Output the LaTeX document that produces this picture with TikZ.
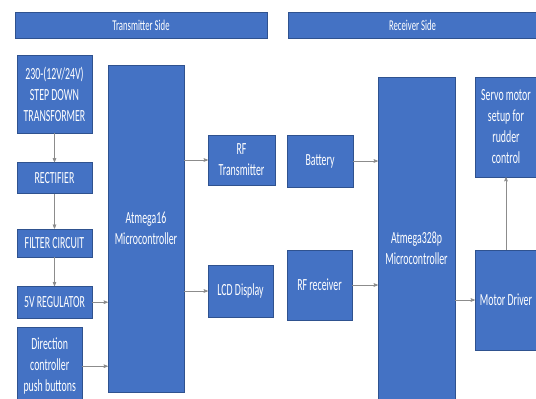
\documentclass[tikz,border=0pt]{standalone}
\usepackage{fontspec}
\newfontfamily\blockfont{Carlito}[FakeStretch=0.58]
\usepackage{tikz}
\usetikzlibrary{arrows}
\usetikzlibrary{positioning}
\definecolor{boxblue}{RGB}{68,114,196}
\definecolor{boxedge}{RGB}{47,82,143}
\definecolor{wire}{RGB}{140,140,140}

\begin{document}
\begin{tikzpicture}[x=1pt,y=-1pt,>=stealth',
    block/.style={rectangle,draw=boxedge,fill=boxblue,text=white,align=center,inner sep=1pt,
      font=\blockfont\fontsize{17}{21}\selectfont},
    link/.style={->,draw=wire,line width=0.6pt}]

  \useasboundingbox (0,0) rectangle (536,399);

  % side headers
  \node[block,minimum width=252pt,minimum height=26pt,font=\blockfont\fontsize{15}{18}\selectfont] (txside) at (141,25) {Transmitter Side};
  \node[block,minimum width=249pt,minimum height=26pt,font=\blockfont\fontsize{15}{18}\selectfont] (rxside) at (412.5,25) {Receiver Side};

  % transmitter: power chain
  \node[block,minimum width=75pt,minimum height=78pt] (trans) at (54.5,94) {230-(12V/24V)\\STEP DOWN\\TRANSFORMER};
  \node[block,minimum width=75pt,minimum height=31pt] (rect) [below=29pt of trans] {RECTIFIER};
  \node[block,minimum width=75pt,minimum height=28pt] (filter) [below=35pt of rect] {FILTER CIRCUIT};
  \node[block,minimum width=75pt,minimum height=32pt] (reg) [below=29pt of filter] {5V REGULATOR};
  \node[block,minimum width=65pt,minimum height=78pt,anchor=north west] (dir) at (17,327) {Direction\\controller\\push buttons};

  \node[block,minimum width=76pt,minimum height=327pt] (m16) at (146,228.5) {Atmega16\\Microcontroller};
  \node[block,minimum width=67pt,minimum height=50pt] (rftx) at (241.5,160) {RF\\Transmitter};
  \node[block,minimum width=65pt,minimum height=52pt] (lcd) at (240.5,291) {LCD Display};

  % receiver
  \node[block,minimum width=66pt,minimum height=52pt] (bat) at (320,161) {Battery};
  \node[block,minimum width=65pt,minimum height=70pt] (rfrx) at (319.5,285) {RF receiver};
  \node[block,minimum width=77pt,minimum height=342pt] (m328) at (416.5,248) {Atmega328p\\Microcontroller};
  \node[block,minimum width=62pt,minimum height=100pt] (servo) at (506,127) {Servo motor\\setup for\\rudder\\control};
  \node[block,minimum width=62pt,minimum height=100pt] (motor) at (506,300) {Motor Driver};

  \draw[link] (trans) -- (rect);
  \draw[link] (rect) -- (filter);
  \draw[link] (filter) -- (reg);
  \draw[link] (reg) -- (reg -| m16.west);
  \draw[link] (dir) -- (dir -| m16.west);
  \draw[link] (m16.east |- rftx) -- (rftx);
  \draw[link] (m16.east |- lcd) -- (lcd);
  \draw[link] (bat) -- (bat -| m328.west);
  \draw[link] (rfrx) -- (rfrx -| m328.west);
  \draw[link] (m328.east |- motor) -- (motor);
  \draw[link] (motor) -- (servo);
\end{tikzpicture}
\end{document}
